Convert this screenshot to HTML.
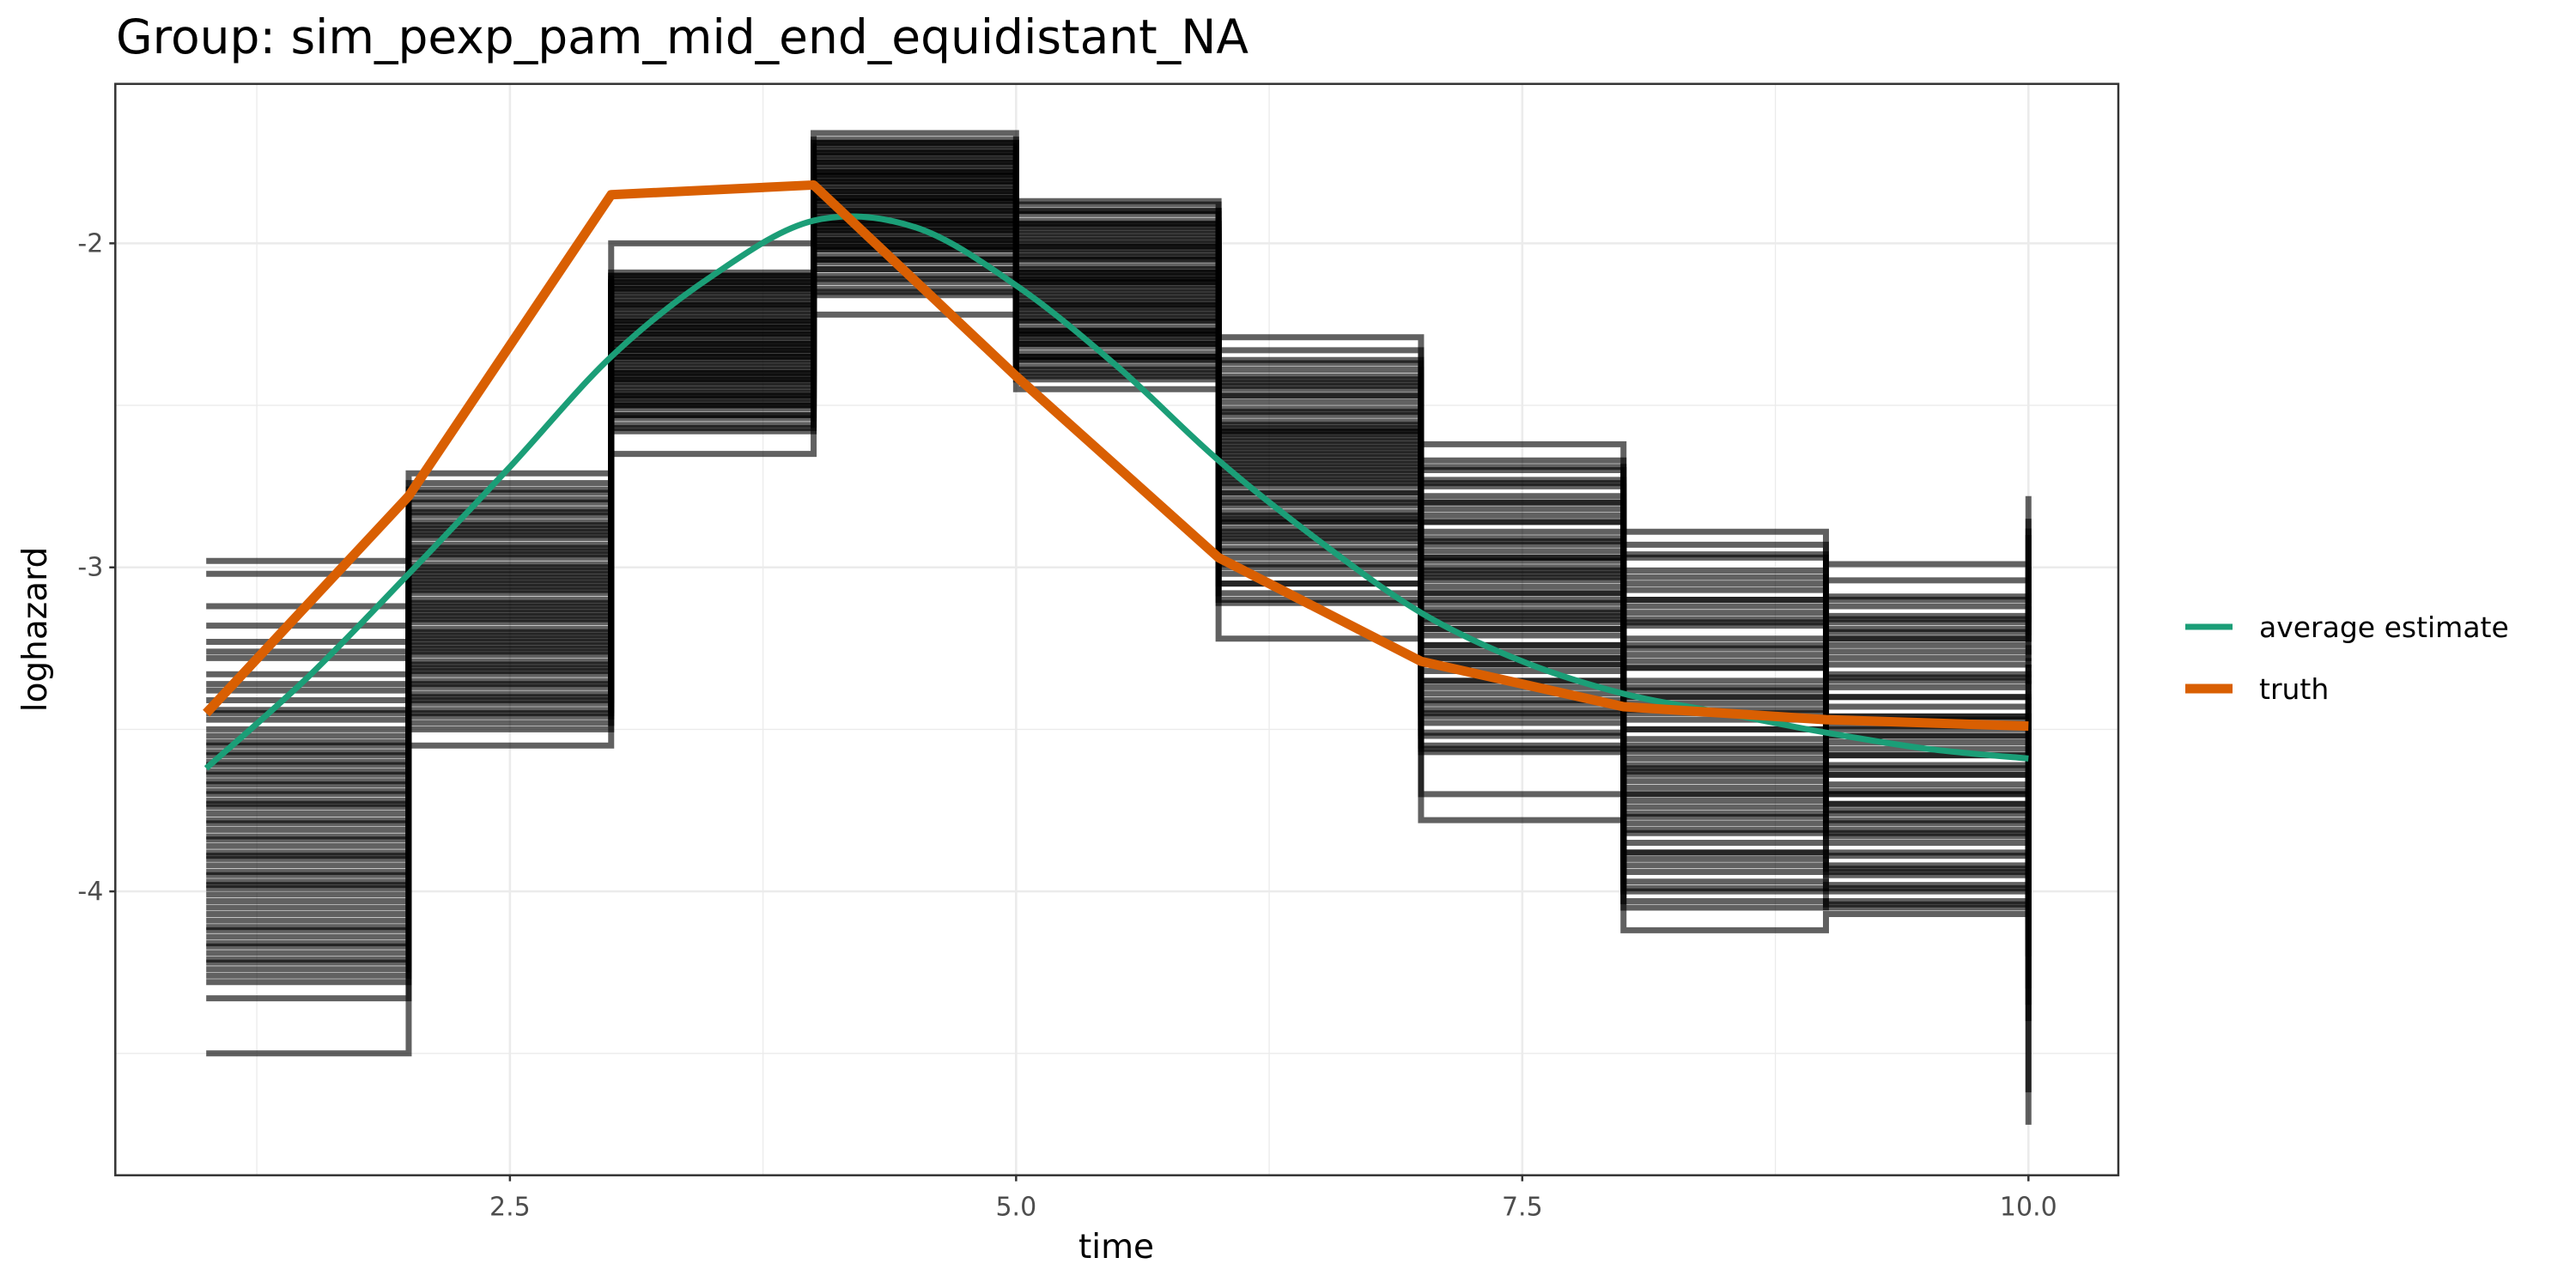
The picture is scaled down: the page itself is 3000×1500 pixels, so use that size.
<!DOCTYPE html>
<html><head><meta charset="utf-8">
<style>
html,body{margin:0;padding:0;background:#fff;}
svg{display:block;font-family:"DejaVu Sans","Liberation Sans",sans-serif;}
</style></head>
<body>
<svg id="chart" width="3000" height="1500" viewBox="0 0 3000 1500">
<rect x="0" y="0" width="3000" height="1500" fill="#fff"/>
<text x="135" y="62" font-size="55" fill="#000">Group: sim_pexp_pam_mid_end_equidistant_NA</text>
<g id="grid"></g>
<g id="steps"></g>
<g id="lines"></g>
<rect x="134.3" y="97.7" width="2332.7" height="1271" fill="none" stroke="#333" stroke-width="2.5"/>
<g id="axes"></g>
<text x="1300" y="1465" font-size="39" text-anchor="middle" fill="#000">time</text>
<text transform="translate(54,733) rotate(-90)" font-size="39" text-anchor="middle" fill="#000">loghazard</text>
<g>
<g>
<line x1="2545" y1="730" x2="2600" y2="730" stroke="#1B9E77" stroke-width="7"/>
<text x="2631" y="742" font-size="33" fill="#000">average estimate</text>
</g>
<g>
<line x1="2545" y1="802" x2="2600" y2="802" stroke="#D95F02" stroke-width="11"/>
<text x="2631" y="814" font-size="33" fill="#000">truth</text>
</g>
</g>
</svg>
<script>
// ---- data ----
const intervalStarts = [1,2,3,4,5,6,7,8,9,10];
const simI1 = [-3.61,-3.95,-3.28,-4.12,-3.74,-3.50,-4.05,-3.33,-3.88,-4.21,-3.66,-3.02,-3.79,-4.28,-3.44,-3.92,-3.57,-4.16,-3.23,-3.84,-4.01,-3.70,-2.98,-3.47,-4.33,-3.90,-3.63,-3.38,-4.09,-3.76,-3.18,-3.99,-4.24,-3.54,-3.81,-4.50,-3.69,-3.41,-4.14,-3.86,-3.12,-3.97,-3.58,-4.19,-3.73,-3.26,-3.36,-3.45,-3.52,-3.60,-3.67,-3.72,-3.78,-3.83,-3.89,-3.94,-3.98,-4.03,-4.07,-4.11,-4.17,-4.22,-4.26,-3.55,-3.64];
const simI2 = [-3.05,-2.88,-3.31,-2.76,-3.19,-3.42,-2.95,-3.12,-2.82,-3.36,-3.01,-3.25,-2.71,-3.48,-2.91,-3.15,-3.08,-2.79,-3.29,-3.39,-2.86,-3.22,-2.99,-3.44,-3.55,-2.93,-3.17,-2.84,-3.33,-3.10,-3.03,-3.27,-2.97,-3.46,-2.80,-3.21,-3.13,-3.37,-2.89,-3.06,-3.24,-3.41,-2.74,-3.50,-3.00,-2.77,-2.83,-2.90,-2.96,-3.02,-3.07,-3.11,-3.16,-3.20,-3.26,-3.30,-3.35,-3.40,-3.45,-2.87,-2.94,-3.04,-3.14,-3.23,-3.32];
const simI3 = [-2.31,-2.12,-2.45,-2.22,-2.53,-2.18,-2.38,-2.27,-2.09,-2.49,-2.34,-2.15,-2.42,-2.25,-2.56,-2.20,-2.36,-2.11,-2.47,-2.29,-2.00,-2.40,-2.16,-2.51,-2.33,-2.24,-2.44,-2.13,-2.58,-2.30,-2.19,-2.37,-2.65,-2.26,-2.48,-2.14,-2.41,-2.23,-2.54,-2.32,-2.10,-2.43,-2.28,-2.50,-2.35,-2.10,-2.14,-2.17,-2.21,-2.24,-2.28,-2.31,-2.35,-2.39,-2.42,-2.46,-2.50,-2.53,-2.57,-2.19,-2.26,-2.33,-2.40,-2.47,-2.12];
const simI4 = [-1.88,-1.72,-2.01,-1.79,-1.95,-1.68,-2.08,-1.84,-1.91,-1.75,-2.12,-1.82,-1.98,-1.70,-1.93,-2.04,-1.77,-1.86,-2.22,-1.73,-1.99,-1.81,-2.06,-1.89,-1.66,-1.96,-1.78,-2.10,-1.85,-1.92,-1.74,-2.02,-1.80,-1.97,-1.69,-2.15,-1.87,-1.76,-2.00,-1.83,-1.94,-1.71,-2.05,-1.90,-2.16,-1.69,-1.72,-1.75,-1.78,-1.81,-1.84,-1.87,-1.90,-1.93,-1.96,-1.99,-2.02,-2.05,-2.08,-2.11,-2.14,-1.79,-1.86,-1.94,-2.01];
const simI5 = [-2.12,-1.95,-2.28,-2.03,-2.36,-1.90,-2.19,-2.08,-2.41,-1.99,-2.24,-2.15,-1.93,-2.32,-2.05,-2.21,-1.88,-2.38,-2.10,-2.26,-2.01,-2.45,-1.97,-2.17,-2.30,-2.07,-2.23,-1.91,-2.34,-2.13,-2.00,-2.27,-2.40,-1.96,-2.18,-2.09,-2.31,-1.94,-2.22,-2.04,-2.35,-1.87,-2.14,-2.29,-2.11,-1.90,-1.94,-1.98,-2.01,-2.05,-2.09,-2.12,-2.16,-2.20,-2.24,-2.27,-2.31,-2.35,-2.39,-2.42,-2.02,-2.11,-2.19,-2.28,-2.36];
const simI6 = [-2.68,-2.41,-2.85,-2.55,-2.97,-2.36,-2.74,-2.62,-3.05,-2.47,-2.80,-2.58,-2.91,-2.33,-2.70,-3.11,-2.51,-2.88,-2.65,-2.44,-2.99,-2.77,-2.29,-2.59,-3.22,-2.83,-2.49,-2.72,-2.94,-2.39,-2.66,-3.02,-2.53,-2.79,-2.61,-2.86,-2.45,-3.08,-2.71,-2.57,-2.92,-2.43,-2.75,-2.63,-2.89,-2.37,-2.42,-2.47,-2.52,-2.56,-2.60,-2.64,-2.69,-2.73,-2.77,-2.81,-2.86,-2.90,-2.95,-3.00,-3.05,-3.10,-2.58,-2.67,-2.84];
const simI7 = [-3.08,-2.78,-3.32,-2.91,-3.45,-2.70,-3.15,-3.01,-3.52,-2.86,-3.24,-2.95,-3.39,-2.67,-3.11,-3.57,-2.82,-3.28,-3.04,-2.75,-3.48,-3.19,-2.62,-2.98,-3.78,-3.35,-2.89,-3.13,-3.42,-2.73,-3.06,-3.70,-2.93,-3.26,-3.00,-3.37,-2.80,-3.55,-3.17,-2.97,-3.30,-2.84,-3.21,-3.10,-3.44,-2.69,-2.74,-2.80,-2.86,-2.92,-2.97,-3.03,-3.08,-3.14,-3.19,-3.24,-3.30,-3.35,-3.41,-3.46,-3.51,-3.56,-3.02,-3.16,-3.28];
const simI8 = [-3.45,-3.05,-3.72,-3.22,-3.88,-2.97,-3.56,-3.31,-3.97,-3.14,-3.64,-3.38,-3.81,-2.93,-3.50,-4.03,-3.10,-3.68,-3.42,-3.01,-3.92,-3.59,-2.89,-3.27,-4.12,-3.77,-3.18,-3.53,-3.85,-3.07,-3.47,-4.05,-3.25,-3.70,-3.35,-3.79,-3.12,-3.99,-3.61,-3.29,-3.74,-3.16,-3.62,-3.40,-3.90,-2.96,-3.03,-3.10,-3.17,-3.24,-3.31,-3.37,-3.44,-3.50,-3.57,-3.63,-3.70,-3.76,-3.82,-3.88,-3.94,-4.00,-3.40,-3.55,-3.66];
const simI9 = [-3.52,-3.15,-3.78,-3.30,-3.92,-3.09,-3.61,-3.40,-4.00,-3.22,-3.69,-3.46,-3.85,-3.04,-3.56,-4.05,-3.19,-3.73,-3.49,-3.12,-3.95,-3.64,-2.99,-3.35,-4.07,-3.81,-3.26,-3.58,-3.89,-3.17,-3.54,-4.03,-3.33,-3.75,-3.43,-3.83,-3.20,-3.98,-3.67,-3.37,-3.79,-3.24,-3.70,-3.47,-3.93,-3.10,-3.16,-3.22,-3.28,-3.34,-3.40,-3.46,-3.52,-3.58,-3.64,-3.70,-3.76,-3.82,-3.88,-3.94,-3.99,-4.04,-3.50,-3.62,-3.73];
const simEnd = [-3.45,-3.10,-3.80,-3.25,-4.00,-2.90,-3.60,-3.35,-4.20,-3.15,-3.70,-3.50,-3.90,-2.85,-3.55,-4.10,-3.05,-3.75,-3.40,-3.00,-4.35,-3.65,-2.78,-3.30,-4.72,-3.85,-3.20,-3.58,-3.95,-3.12,-3.48,-4.62,-3.28,-3.72,-3.38,-3.88,-3.08,-4.05,-3.62,-3.32,-3.78,-3.18,-3.68,-3.42,-4.15,-2.88,-3.00,-3.12,-3.24,-3.36,-3.48,-3.60,-3.72,-3.84,-3.96,-4.08,-4.20,-4.30,-4.40,-3.30,-3.55,-3.65,-3.80,-3.92,-4.02];
const truthX = [1,2,3,4,5,6,7,8,9,10];
const truthY = [-3.45,-2.78,-1.85,-1.82,-2.41,-2.97,-3.29,-3.43,-3.47,-3.49];
const avgX = [1,1.5,2,2.5,3,3.5,4,4.5,5,5.5,6,6.5,7,7.5,8,8.5,9,9.5,10];
const avgY = [-3.62,-3.34,-3.02,-2.69,-2.35,-2.10,-1.93,-1.95,-2.13,-2.38,-2.67,-2.92,-3.14,-3.29,-3.39,-3.45,-3.51,-3.56,-3.59];
const xTicks = [2.5,5,7.5,10];
const xTickLabels = ["2.5","5.0","7.5","10.0"];
const xMinor = [1.25,3.75,6.25,8.75];
const yTicks = [-2,-3,-4];
const yTickLabels = ["-2","-3","-4"];
const yMinor = [-2.5,-3.5,-4.5];

// ---- scales ----
const PL=134.3, PR=2467, PT=97.7, PB=1368.7;
const X0=0.551, X1=10.444, Y0=-4.876, Y1=-1.508;
const sx = v => PL + (v-X0)/(X1-X0)*(PR-PL);
const sy = v => PB - (v-Y0)/(Y1-Y0)*(PB-PT);
const NS="http://www.w3.org/2000/svg";
function mk(tag, attrs, parent){const e=document.createElementNS(NS,tag);for(const k in attrs)e.setAttribute(k,attrs[k]);parent.appendChild(e);return e;}

// grid
const grid=document.getElementById('grid');
xMinor.forEach(v=>{const l=mk('line',{x1:sx(v),x2:sx(v),y1:PT,y2:PB,stroke:'#EBEBEB','stroke-width':1.3},grid);

});
yMinor.forEach(v=>{const l=mk('line',{x1:PL,x2:PR,y1:sy(v),y2:sy(v),stroke:'#EBEBEB','stroke-width':1.3},grid);

});
xTicks.forEach(v=>{const l=mk('line',{x1:sx(v),x2:sx(v),y1:PT,y2:PB,stroke:'#EBEBEB','stroke-width':2.6},grid);

});
yTicks.forEach(v=>{const l=mk('line',{x1:PL,x2:PR,y1:sy(v),y2:sy(v),stroke:'#EBEBEB','stroke-width':2.6},grid);

});

// step lines
const steps=document.getElementById('steps');
const sims=[simI1,simI2,simI3,simI4,simI5,simI6,simI7,simI8,simI9];
for(let j=0;j<simI1.length;j++){
  let d='M'+sx(intervalStarts[0])+','+sy(sims[0][j]);
  for(let i=0;i<sims.length;i++){
    d+=' H'+sx(intervalStarts[i+1]);
    const nxt = i+1<sims.length ? sims[i+1][j] : simEnd[j];
    d+=' V'+sy(nxt);
  }
  const p=mk('path',{d:d,fill:'none',stroke:'#000','stroke-opacity':0.62,'stroke-width':7},steps);
  
  
}

// series lines
const lines=document.getElementById('lines');
function smoothPath(xs,ys){
  const pts=xs.map((x,i)=>[sx(x),sy(ys[i])]);
  let d='M'+pts[0][0]+','+pts[0][1];
  for(let i=0;i<pts.length-1;i++){
    const p0=pts[Math.max(0,i-1)],p1=pts[i],p2=pts[i+1],p3=pts[Math.min(pts.length-1,i+2)];
    const c1=[p1[0]+(p2[0]-p0[0])/6,p1[1]+(p2[1]-p0[1])/6];
    const c2=[p2[0]-(p3[0]-p1[0])/6,p2[1]-(p3[1]-p1[1])/6];
    d+=' C'+c1+' '+c2+' '+p2;
  }
  return d;
}
const avg=mk('path',{d:smoothPath(avgX,avgY),fill:'none',stroke:'#1B9E77','stroke-width':7},lines);


const truth=mk('path',{d:'M'+truthX.map((x,i)=>sx(x)+','+sy(truthY[i])).join(' L'),fill:'none',stroke:'#D95F02','stroke-width':11,'stroke-linejoin':'round'},lines);



// axes
const axes=document.getElementById('axes');
xTicks.forEach((v,i)=>{
  const t=mk('line',{x1:sx(v),x2:sx(v),y1:PB,y2:PB+7,stroke:'#333','stroke-width':2.5},axes);
  
  
  const lb=mk('text',{x:sx(v),y:PB+47,'font-size':30,'text-anchor':'middle',fill:'#4D4D4D'},axes);
  lb.textContent=xTickLabels[i];
  
  
});
yTicks.forEach((v,i)=>{
  const t=mk('line',{x1:PL-7,x2:PL,y1:sy(v),y2:sy(v),stroke:'#333','stroke-width':2.5},axes);
  
  
  const lb=mk('text',{x:PL-14,y:sy(v)+10,'font-size':30,'text-anchor':'end',fill:'#4D4D4D'},axes);
  lb.textContent=yTickLabels[i];
  
  
});
</script>
</body></html>
